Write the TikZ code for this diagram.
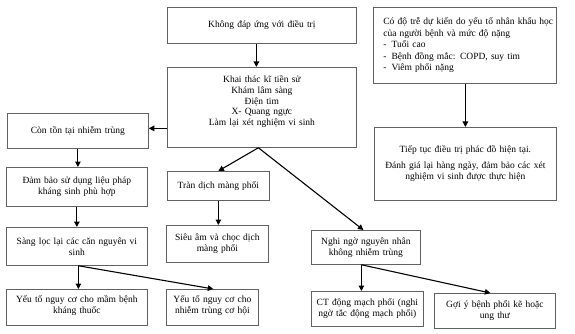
\documentclass[tikz,border=0pt]{standalone}
\usepackage{fontspec}
\setmainfont{Liberation Serif}
\usetikzlibrary{arrows.meta,calc}
\begin{document}
\begin{tikzpicture}[x=1pt,y=-1pt,
  box/.style={draw=black!62,line width=0.75pt,inner xsep=2pt,inner ysep=0pt,align=center,font=\fontsize{9.5}{11}\selectfont,anchor=north west},
  arr/.style={line width=1.1pt,-{Triangle[length=5.5pt,width=5.5pt]}}]
\useasboundingbox[fill=white] (0,0) rectangle (575,334);
\newcommand{\bx}[6]{\node[box,minimum width=#4pt,minimum height=#5pt,text width=#4pt-4pt] (#1) at (#2,#3) {#6};}
\newcommand{\up}[1]{\rule[-#1pt]{0pt}{1pt}}
\bx{top}{167}{7}{189}{36}{Không đáp ứng với điều trị}
\bx{big}{167}{67}{189}{80}{\fontsize{9.5}{10.7}\selectfont Khai thác kĩ tiền sử\\Khám lâm sàng\\Điện tim\\X- Quang ngực\\Làm lại xét nghiệm vi sinh\up{13}}
\node[box,align=left,minimum width=183pt,minimum height=76pt,text width=163pt,inner xsep=10pt,font=\fontsize{9.5}{11.5}\selectfont] (r1) at (373,7)
  {\mbox{Có độ trễ dự kiến do yếu tố nhân khẩu học}\\
   của người bệnh và mức độ nặng\\
   -\hspace{5pt}Tuổi cao\\-\hspace{5pt}Bệnh đồng mắc: COPD, suy tim\\-\hspace{5pt}Viêm phổi nặng};
\bx{r2}{374}{127}{182}{73}{\fontsize{9.5}{13}\selectfont Tiếp tục điều trị phác đồ hiện tại.\\[3pt]Đánh giá lại hàng ngày, đảm bảo các xét\\nghiệm vi sinh được thực hiện}
\bx{con}{7}{113}{141}{35}{Còn tồn tại nhiễm trùng}
\bx{dam}{6}{167}{141}{39}{Đảm bảo sử dụng liệu pháp\\kháng sinh phù hợp}
\bx{sang}{6}{227}{141}{38}{Sàng lọc lại các căn nguyên vi\\sinh}
\bx{y1}{6}{289}{141}{36}{Yếu tố nguy cơ cho mầm bệnh\\kháng thuốc\up{6}}
\bx{y2}{166}{289}{92}{36}{Yếu tố nguy cơ cho\\nhiễm trùng cơ hội\up{6}}
\bx{tran}{167}{171}{102}{29}{Tràn dịch màng phổi}
\bx{sieu}{166}{225}{102}{37}{Siêu âm và chọc dịch\\màng phổi}
\bx{nghi}{311}{230}{109}{34}{Nghi ngờ nguyên nhân\\không nhiễm trùng}
\bx{ct}{311}{291}{112}{35}{CT động mạch phổi (nghi\\ngờ tắc động mạch phổi)}
\bx{goi}{434}{293}{121}{35}{Gợi ý bệnh phổi kẽ hoặc\\ung thư}
% connectors
\coordinate (tb) at ([xshift=-5.5pt]top.south);
\draw[arr] (tb) -- (tb |- big.north);
\coordinate (bw) at ([yshift=-21pt]big.west);
\draw[arr] (bw) -- (bw -| con.east);
\draw[arr] (con.south) -- (con.south |- dam.north);
\draw[arr] (dam.south) -- (dam.south |- sang.north);
\coordinate (sb) at ([xshift=1.5pt]sang.south);
\draw[arr] (sb) -- (sb |- y1.north);
\draw[arr] (sb) -- ([xshift=1pt]y2.north);
\coordinate (bb) at ([xshift=-3.5pt]big.south);
\draw[arr] (bb) -- (tran.north);
\draw[arr] (bb) -- ([xshift=-2.5pt]nghi.north);
\draw[arr] (tran.south) -- (tran.south |- sieu.north);
\coordinate (rb) at ([xshift=0.5pt]r1.south);
\draw[arr] (rb) -- (rb |- r2.north);
\coordinate (nb) at ([xshift=-4.5pt]nghi.south);
\draw[arr] (nb) -- (nb |- ct.north);
\draw[arr] (nb) -- ([xshift=-4.5pt]goi.north);
\end{tikzpicture}
\end{document}
